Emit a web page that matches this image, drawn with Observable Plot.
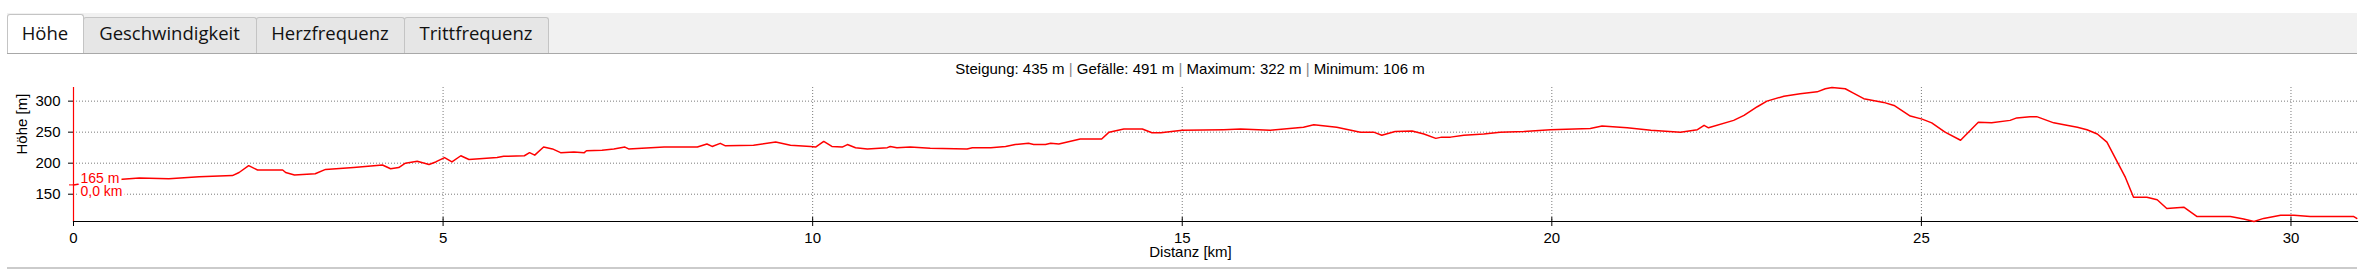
<!DOCTYPE html>
<html><head><meta charset="utf-8">
<script src="https://cdn.jsdelivr.net/npm/d3@7"></script>
<script src="https://cdn.jsdelivr.net/npm/@observablehq/plot@0.6"></script>
<style>
html,body{margin:0;padding:0;background:#fff;}
body{width:2362px;height:272px;overflow:hidden;position:relative;}
#tabbar{position:absolute;left:7px;top:13px;width:2350px;height:40px;background:#f1f1f1;border-bottom:1px solid #a8a8a8;}
.tab{position:absolute;box-sizing:border-box;top:4px;height:36px;background:#e6e6e6;border:1px solid #c4c4c4;border-bottom:none;border-radius:3px 3px 0 0;}
.tab.active{top:1px;height:39px;background:#fff;}
.tablabel{position:absolute;top:9px;height:22px;line-height:22px;text-align:center;font-family:"Open Sans",sans-serif;font-size:18.5px;color:#111;white-space:nowrap;}
#stats{position:absolute;left:0;width:2380px;top:60px;line-height:17px;text-align:center;font-family:"Liberation Sans",Arial,sans-serif;font-size:15px;color:#000;white-space:nowrap;}
#stats .sep{color:#888;}
#chart{position:absolute;left:0;top:78px;}
#bottomline{position:absolute;left:7px;top:267px;width:2350px;height:2px;background:#cbcbcb;}
</style>
</head><body>
<div id="tabbar"></div>
<div id="stats"></div>
<div id="chart"></div>
<div id="bottomline"></div>
<script>
// ---- data ----
const tabLabels = ["Höhe", "Geschwindigkeit", "Herzfrequenz", "Trittfrequenz"];
const statLabels = ["Steigung", "Gefälle", "Maximum", "Minimum"];
const statValues = [435, 491, 322, 106];
const xTicks = [0, 5, 10, 15, 20, 25, 30];
const yTicks = [150, 200, 250, 300];
const xLabel = "Distanz [km]";
const yLabel = "Höhe [m]";
const distanceKm = [0, 0.3, 0.66, 0.89, 1.29, 1.70, 2.15, 2.24, 2.37, 2.49, 2.83, 2.87, 2.99, 3.27, 3.41, 3.79, 4.18, 4.29, 4.40, 4.49, 4.65, 4.81, 4.90, 5.02, 5.12, 5.24, 5.35, 5.73, 5.82, 6.10, 6.17, 6.24, 6.36, 6.48, 6.59, 6.77, 6.91, 6.94, 7.15, 7.31, 7.46, 7.51, 7.99, 8.44, 8.57, 8.64, 8.75, 8.82, 9.20, 9.50, 9.70, 9.97, 10.04, 10.15, 10.26, 10.40, 10.47, 10.58, 10.74, 11.01, 11.05, 11.14, 11.32, 11.59, 12.09, 12.16, 12.41, 12.61, 12.74, 12.92, 12.99, 13.15, 13.22, 13.33, 13.62, 13.91, 14.01, 14.21, 14.46, 14.59, 14.71, 15.00, 15.56, 15.79, 16.19, 16.64, 16.78, 17.09, 17.41, 17.59, 17.70, 17.88, 18.11, 18.27, 18.43, 18.51, 18.63, 18.81, 19.08, 19.30, 19.62, 19.98, 20.52, 20.68, 21.02, 21.34, 21.74, 21.97, 22.06, 22.12, 22.46, 22.60, 22.78, 22.91, 23.14, 23.36, 23.59, 23.70, 23.79, 23.97, 24.08, 24.22, 24.49, 24.63, 24.85, 25.01, 25.14, 25.32, 25.53, 25.77, 25.95, 26.20, 26.29, 26.47, 26.56, 26.79, 26.93, 27.11, 27.24, 27.38, 27.51, 27.65, 27.76, 27.87, 28.05, 28.19, 28.32, 28.55, 28.73, 29.18, 29.36, 29.50, 29.63, 29.86, 30.04, 30.26, 30.85, 30.89];
const elevationM = [165, 171, 174, 176, 175, 178, 180, 185, 196, 189, 189, 185, 181, 183, 190, 193, 197, 191, 193, 200, 203, 198, 202, 209, 202, 212, 206, 209, 211, 212, 217, 213, 226, 223, 217, 218, 217, 220, 221, 223, 226, 223, 226, 226, 231, 227, 232, 228, 229, 234, 229, 227, 226, 235, 227, 226, 230, 225, 223, 225, 227, 225, 226, 224, 223, 225, 225, 227, 230, 232, 230, 230, 232, 231, 239, 239, 250, 255, 255, 249, 249, 253, 254, 255, 253, 258, 262, 258, 250, 250, 245, 251, 252, 247, 240, 242, 242, 245, 247, 250, 251, 254, 256, 260, 257, 253, 250, 254, 261, 257, 269, 277, 291, 300, 308, 312, 315, 320, 322, 320, 313, 304, 298, 293, 276, 271, 265, 250, 237, 266, 265, 269, 273, 275, 275, 265, 262, 258, 254, 247, 234, 202, 177, 145, 145, 141, 127, 129, 114, 114, 110, 106, 111, 116, 116, 114, 114, 111];

// ---- layout (not data) ----
const tabEdges = [0, 76, 249, 397, 541];

// tabs
const bar = document.getElementById("tabbar");
tabLabels.forEach((t, i) => {
  const box = document.createElement("div");
  box.className = "tab" + (i === 0 ? " active" : "");
  box.style.left = tabEdges[i] + "px";
  box.style.width = (tabEdges[i + 1] - tabEdges[i] + 1) + "px";
  bar.appendChild(box);
  const lab = document.createElement("div");
  lab.className = "tablabel";
  lab.style.left = tabEdges[i] + "px";
  lab.style.width = (tabEdges[i + 1] - tabEdges[i]) + "px";
  lab.textContent = t;
  bar.appendChild(lab);
});

// stats line
const stats = document.getElementById("stats");
statLabels.forEach((l, i) => {
  if (i > 0) {
    const s = document.createElement("span");
    s.className = "sep";
    s.textContent = " | ";
    stats.appendChild(s);
  }
  const span = document.createElement("span");
  span.textContent = `${l}: ${statValues[i]} m`;
  stats.appendChild(span);
});

// chart
const data = distanceKm.map((d, i) => ({km: d, m: elevationM[i]}));
const fmtKm = d => d.toFixed(1).replace(".", ",") + " km";
const markerLabels = [`${elevationM[0]} m`];
const markerLabels2 = [fmtKm(distanceKm[0])];
const font = '"Liberation Sans", Arial, sans-serif';
const grid = {stroke: "#7a7a7a", strokeOpacity: 1, strokeDasharray: "1,2"};

const chart = Plot.plot({
  width: 2362, height: 180,
  marginLeft: 73, marginRight: 5, marginTop: 9, marginBottom: 37,
  style: {fontFamily: font, fontSize: "15px", color: "#000", background: "transparent", overflow: "visible"},
  x: {domain: [0, 30.9]},
  y: {domain: [106, 322]},
  marks: [
    Plot.gridY({ticks: yTicks, ...grid}),
    Plot.gridX({ticks: xTicks.slice(1), ...grid}),
    Plot.frame({anchor: "bottom", stroke: "#000", strokeWidth: 1.2}),
    Plot.axisX({ticks: xTicks, tickSize: 9, dy: -4, tickPadding: 6, label: null, tickFormat: d => String(d), fontSize: 15}),
    Plot.axisY({ticks: yTicks, tickSize: 5, tickPadding: 8, label: null, fontSize: 15}),
    Plot.line(data, {x: "km", y: "m", stroke: "#f00", strokeWidth: 1.5}),
    Plot.ruleX([distanceKm[0]], {stroke: "#f00", strokeWidth: 1.2}),
    Plot.axisY({ticks: [elevationM[0]], tickSize: 4, tickFormat: () => "", stroke: "#f00", label: null}),
    Plot.text(markerLabels, {x: () => distanceKm[0], y: () => elevationM[0], text: d => d, dx: 7, dy: -6.5, textAnchor: "start", lineAnchor: "middle", fill: "#f00", stroke: "#fff", strokeWidth: 6, fontSize: 14}),
    Plot.text(markerLabels2, {x: () => distanceKm[0], y: () => elevationM[0], text: d => d, dx: 7, dy: 6.5, textAnchor: "start", lineAnchor: "middle", fill: "#f00", stroke: "#fff", strokeWidth: 6, fontSize: 14}),
    Plot.text([yLabel], {frameAnchor: "left", text: d => d, rotate: -90, dx: -51, lineAnchor: "middle", fontSize: 15, fill: "#000"}),
    Plot.text([xLabel], {frameAnchor: "bottom", text: d => d, dx: -25, dy: 31, lineAnchor: "middle", fontSize: 15, fill: "#000"})
  ]
});
document.getElementById("chart").appendChild(chart);
</script>
</body></html>
